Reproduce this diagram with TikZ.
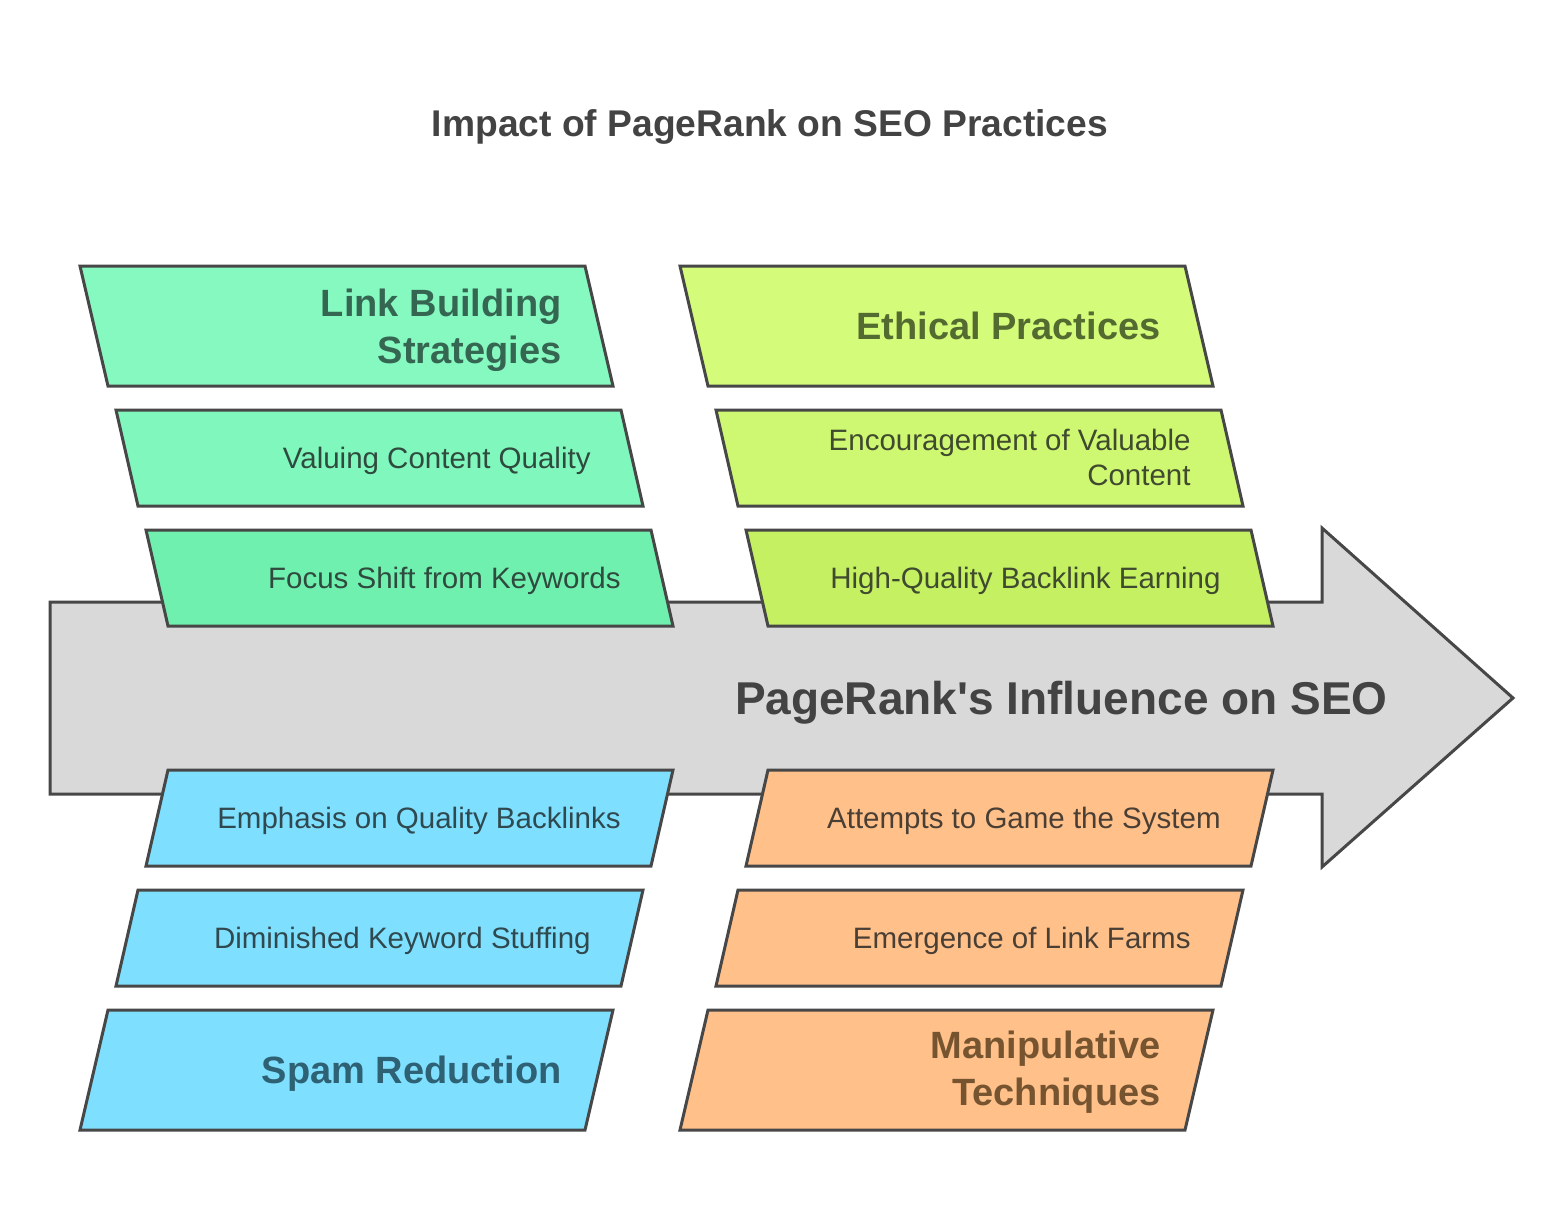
\documentclass[tikz,border=0pt]{standalone}
\usepackage{fontspec}
\setmainfont{Liberation Sans}
\definecolor{edge}{HTML}{474747}
\definecolor{arrowfill}{HTML}{D9D9D9}
\definecolor{gA}{HTML}{86F9C1}
\definecolor{gB}{HTML}{80F7BC}
\definecolor{gC}{HTML}{70F0AE}
\definecolor{lA}{HTML}{D4FB79}
\definecolor{lB}{HTML}{CFF872}
\definecolor{lC}{HTML}{C4F062}
\definecolor{bA}{HTML}{7EDFFF}
\definecolor{oA}{HTML}{FFC08A}
\definecolor{gbig}{HTML}{356651}
\definecolor{gsmall}{HTML}{2F4A3E}
\definecolor{lbig}{HTML}{536B30}
\definecolor{lsmall}{HTML}{3F4A2F}
\definecolor{bbig}{HTML}{2D6173}
\definecolor{bsmall}{HTML}{30494F}
\definecolor{obig}{HTML}{765430}
\definecolor{osmall}{HTML}{4A3F35}
\definecolor{titlec}{HTML}{434343}
\tikzset{
  box/.style={draw=edge, line width=1.5pt},
  smalltxt/.style={font=\fontsize{14.75pt}{17.5pt}\selectfont, anchor=base east, inner sep=0pt},
  bigtxt/.style={font=\bfseries\fontsize{19pt}{23pt}\selectfont, anchor=base east, inner sep=0pt},
}
\begin{document}
\begin{tikzpicture}[x=0.5pt,y=-0.5pt]
\useasboundingbox[fill=white] (0,0) rectangle (1564,1228);
% title
\node[font=\bfseries\fontsize{18.6pt}{22pt}\selectfont, text=titlec, anchor=base, inner sep=0pt] (title) at (770,136) {Impact of PageRank on SEO Practices};
% main arrow
\draw[box, fill=arrowfill] (50,602) -- (1322,602) -- (1322,528) -- (1513,698) -- (1322,867) -- (1322,794) -- (50,794) -- cycle;
\node[font=\bfseries\fontsize{23pt}{27pt}\selectfont, text=titlec, anchor=base east, inner sep=0pt] (main) at (1388,714) {PageRank\textquotesingle s Influence on SEO};
% top-left (green)
\draw[box, fill=gA] (80,266) -- (585,266) -- (613,386) -- (108,386) -- cycle;
\draw[box, fill=gB] (116,410) -- (621,410) -- (643,506) -- (138,506) -- cycle;
\draw[box, fill=gC] (146,530) -- (651,530) -- (673,626) -- (168,626) -- cycle;
\node[bigtxt, text=gbig] (lb1) at (562,316) {Link Building};
\node[bigtxt, text=gbig] (lb2) at (562,363) {Strategies};
\node[smalltxt, text=gsmall] (vcq) at (591,468) {Valuing Content Quality};
\node[smalltxt, text=gsmall] (fsk) at (621,588) {Focus Shift from Keywords};
% top-right (lime)
\draw[box, fill=lA] (680,266) -- (1185,266) -- (1213,386) -- (708,386) -- cycle;
\draw[box, fill=lB] (716,410) -- (1221,410) -- (1243,506) -- (738,506) -- cycle;
\draw[box, fill=lC] (746,530) -- (1251,530) -- (1273,626) -- (768,626) -- cycle;
\node[bigtxt, text=lbig] (ep) at (1161,339) {Ethical Practices};
\node[smalltxt, text=lsmall] (evc1) at (1191,450) {Encouragement of Valuable};
\node[smalltxt, text=lsmall] (evc2) at (1191,485) {Content};
\node[smalltxt, text=lsmall] (hqb) at (1221,588) {High-Quality Backlink Earning};
% bottom-left (blue)
\draw[box, fill=bA] (168,770) -- (673,770) -- (651,866) -- (146,866) -- cycle;
\draw[box, fill=bA] (138,890) -- (643,890) -- (621,986) -- (116,986) -- cycle;
\draw[box, fill=bA] (108,1010) -- (613,1010) -- (585,1130) -- (80,1130) -- cycle;
\node[smalltxt, text=bsmall] (eqb) at (621,828) {Emphasis on Quality Backlinks};
\node[smalltxt, text=bsmall] (dks) at (591,948) {Diminished Keyword Stuffing};
\node[bigtxt, text=bbig] (sr) at (562,1083) {Spam Reduction};
% bottom-right (orange)
\draw[box, fill=oA] (768,770) -- (1273,770) -- (1251,866) -- (746,866) -- cycle;
\draw[box, fill=oA] (738,890) -- (1243,890) -- (1221,986) -- (716,986) -- cycle;
\draw[box, fill=oA] (708,1010) -- (1213,1010) -- (1185,1130) -- (680,1130) -- cycle;
\node[smalltxt, text=osmall] (ags) at (1221,828) {Attempts to Game the System};
\node[smalltxt, text=osmall] (elf) at (1191,948) {Emergence of Link Farms};
\node[bigtxt, text=obig] (mt1) at (1161,1058) {Manipulative};
\node[bigtxt, text=obig] (mt2) at (1161,1105) {Techniques};
\end{tikzpicture}
\end{document}
